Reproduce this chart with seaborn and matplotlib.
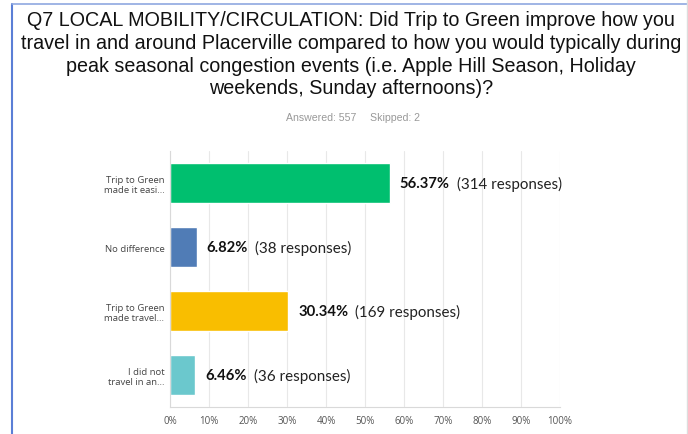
import matplotlib
matplotlib.use("Agg")
import matplotlib.pyplot as plt
from matplotlib.lines import Line2D
from matplotlib.transforms import offset_copy
import pandas as pd
import seaborn as sns

categories = ["Trip to Green\nmade it easi...", "No difference",
              "Trip to Green\nmade travel...", "I did not\ntravel in an..."]
percents = [56.37, 6.82, 30.34, 6.46]
responses = [314, 38, 169, 36]
colors = ["#00BF6F", "#507CB6", "#F9BE00", "#6BC8CD"]
xticks = [0, 10, 20, 30, 40, 50, 60, 70, 80, 90, 100]

title = ("Q7 LOCAL MOBILITY/CIRCULATION: Did Trip to Green improve how you\n"
         "travel in and around Placerville compared to how you would typically during\n"
         "peak seasonal congestion events (i.e. Apple Hill Season, Holiday\n"
         "weekends, Sunday afternoons)?")

df = pd.DataFrame({"answer": categories, "percent": percents})

sns.set_style("white")
plt.rcParams["font.family"] = ["Liberation Sans", "DejaVu Sans"]

fig = plt.figure(figsize=(6.88, 4.35), dpi=100)
ax = fig.add_axes([0.2471, 0.062, 0.814 - 0.2471, 0.6506 - 0.062])

sns.barplot(data=df, x="percent", y="answer", hue="answer", palette=colors,
            legend=False, width=0.63, saturation=1, ax=ax)

ax.set_xlim(0, 100)
ax.set_xticks(xticks)
ax.set_xticklabels([f"{t}%" for t in xticks], fontsize=7, color="#555555",
                   family="Open Sans")
ax.set_yticklabels(categories, fontsize=6.8, color="#444444", family="Open Sans")
ax.tick_params(axis="x", length=0, pad=6)
ax.tick_params(axis="y", length=0, pad=4)
ax.set_xlabel("")
ax.set_ylabel("")
ax.grid(axis="x", color="#e8e8e8", linewidth=0.8)
ax.set_axisbelow(True)
for s in ["top", "right"]:
    ax.spines[s].set_visible(False)
ax.spines["left"].set_color("#d9d9d9")
ax.spines["bottom"].set_color("#d9d9d9")

fig.canvas.draw()
renderer = fig.canvas.get_renderer()
for i, (p, r) in enumerate(zip(percents, responses)):
    tr = offset_copy(ax.transData, fig=fig, x=10, y=0, units="dots")
    t1 = ax.text(p, i, f"{p:.2f}%", transform=tr, fontsize=10.6,
                 fontweight="bold", family="Lato", va="center", ha="left",
                 color="#111111")
    w = t1.get_window_extent(renderer).width
    tr2 = offset_copy(ax.transData, fig=fig, x=10 + w + 7, y=0, units="dots")
    ax.text(p, i, f"({r} responses)", transform=tr2, fontsize=10.9,
            family="Lato", va="center", ha="left", color="#222222")

fig.text(351 / 688, 0.974, title, ha="center", va="top", fontsize=14.2,
         color="#111111", linespacing=1.24)
fig.text(286 / 688, 1 - 118 / 435, "Answered: 557", ha="left", va="center",
         fontsize=7.6, color="#999999")
fig.text(370 / 688, 1 - 118 / 435, "Skipped: 2", ha="left", va="center",
         fontsize=7.6, color="#999999")

# page frame
fig.add_artist(Line2D([12 / 688, 12 / 688], [0, 1 - 4.5 / 435],
                      transform=fig.transFigure, color="#5b7fd6", linewidth=1.5))
fig.add_artist(Line2D([12 / 688, 1], [1 - 4.5 / 435, 1 - 4.5 / 435],
                      transform=fig.transFigure, color="#8fa8e0", linewidth=1.2))
fig.add_artist(Line2D([686.5 / 688, 686.5 / 688], [0, 1],
                      transform=fig.transFigure, color="#dddddd", linewidth=1))

fig.savefig("out.png", dpi=100)
